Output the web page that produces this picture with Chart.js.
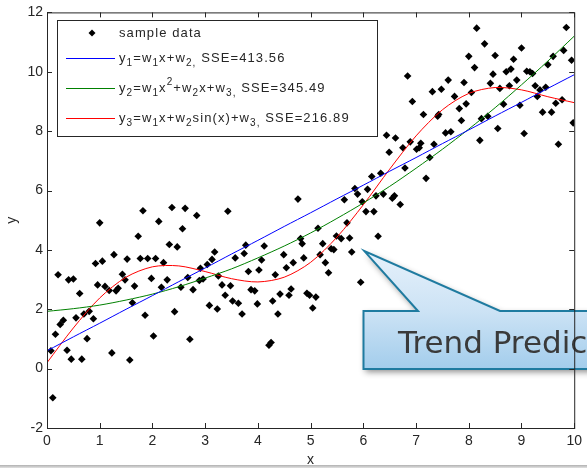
<!DOCTYPE html>
<html>
<head>
<meta charset="utf-8">
<script src="https://cdn.jsdelivr.net/npm/chart.js@4/dist/chart.umd.min.js"></script>
<style>
  html, body { margin: 0; padding: 0; background: #fff; }
  #wrap { position: relative; width: 587px; height: 468px; overflow: hidden; }
  canvas { display: block; }
  #edge { position: absolute; left: 0; right: 0; bottom: 0; height: 3px; background: linear-gradient(#b0b0b0, #e2e2e2); }
</style>
</head>
<body>
<div id="wrap">
  <canvas id="chart" width="587" height="468"></canvas>
  <div id="edge"></div>
</div>
<script>
// sample points (x, y)
const sampleX = [0.075, 0.11, 0.16, 0.21, 0.25, 0.31, 0.38, 0.41, 0.46, 0.50, 0.55, 0.62, 0.66, 0.70, 0.76, 0.80, 0.88, 0.92, 0.96, 1.00,
  1.05, 1.10, 1.18, 1.23, 1.27, 1.31, 1.35, 1.43, 1.48, 1.52, 1.57, 1.62, 1.66, 1.73, 1.77, 1.82, 1.86, 1.91, 1.98, 2.02,
  2.06, 2.12, 2.17, 2.21, 2.28, 2.32, 2.37, 2.42, 2.47, 2.54, 2.57, 2.62, 2.67, 2.71, 2.77, 2.84, 2.89, 2.91, 2.96, 3.04,
  3.08, 3.13, 3.18, 3.23, 3.25, 3.32, 3.38, 3.43, 3.48, 3.52, 3.57, 3.63, 3.70, 3.74, 3.77, 3.82, 3.87, 3.94, 3.99, 4.02,
  4.07, 4.12, 4.21, 4.25, 4.28, 4.33, 4.38, 4.42, 4.49, 4.54, 4.59, 4.63, 4.67, 4.76, 4.81, 4.84, 4.87, 4.93, 4.98, 5.04,
  5.10, 5.14, 5.18, 5.23, 5.28, 5.34, 5.39, 5.44, 5.49, 5.58, 5.64, 5.69, 5.74, 5.78, 5.84, 5.89, 5.95, 5.98, 6.05, 6.08,
  6.16, 6.20, 6.24, 6.28, 6.33, 6.38, 6.44, 6.49, 6.55, 6.59, 6.61, 6.70, 6.75, 6.79, 6.84, 6.89, 6.93, 7.01, 7.06, 7.09,
  7.14, 7.19, 7.26, 7.31, 7.34, 7.41, 7.43, 7.48, 7.56, 7.61, 7.66, 7.73, 7.82, 7.86, 7.91, 7.95, 8.00, 8.05, 8.11, 8.15,
  8.21, 8.24, 8.30, 8.36, 8.41, 8.46, 8.50, 8.55, 8.59, 8.66, 8.71, 8.77, 8.80, 8.85, 8.91, 8.97, 9.00, 9.05, 9.10, 9.16,
  9.21, 9.26, 9.30, 9.35, 9.40, 9.46, 9.50, 9.57, 9.60, 9.65, 9.70, 9.77, 9.80, 9.85, 9.95, 9.98];
const sampleY = [0.60, -0.98, 1.16, 3.16, 1.49, 1.63, 0.62, 2.99, 0.32, 3.02, 1.71, 2.53, 0.32, 1.84, 1.01, 1.93, 1.68, 3.54, 2.82, 4.91,
  3.62, 2.77, 2.63, 0.53, 3.84, 2.62, 2.71, 3.18, 2.99, 3.69, 0.29, 2.22, 2.78, 4.46, 3.71, 5.32, 1.80, 3.71, 3.04, 1.10,
  3.71, 4.96, 2.74, 3.57, 2.99, 4.18, 5.43, 1.92, 4.10, 2.74, 4.71, 5.40, 3.07, 0.99, 2.66, 5.16, 2.97, 3.38, 3.02, 3.51,
  2.13, 3.68, 3.93, 2.01, 3.12, 2.82, 2.47, 5.30, 2.79, 2.28, 3.73, 2.20, 1.84, 3.88, 4.16, 3.27, 2.66, 2.62, 2.18, 3.32,
  3.66, 4.13, 0.79, 0.88, 2.28, 3.16, 1.84, 2.51, 3.84, 3.40, 2.47, 2.68, 3.57, 5.71, 4.38, 4.21, 3.73, 2.54, 2.47, 2.04,
  2.41, 4.73, 3.84, 4.21, 3.57, 3.23, 4.04, 4.01, 4.47, 4.38, 5.69, 4.91, 4.40, 3.93, 6.07, 5.88, 2.91, 5.62, 5.29, 6.04,
  6.47, 5.29, 5.82, 4.46, 6.58, 5.88, 7.86, 7.29, 5.74, 5.82, 7.77, 5.53, 7.44, 6.76, 9.86, 7.64, 9.00, 7.39, 7.44, 7.59,
  8.56, 6.41, 7.11, 9.33, 7.56, 8.50, 8.56, 9.41, 7.94, 9.72, 7.98, 9.17, 8.76, 8.36, 9.64, 8.92, 10.52, 9.30, 10.14, 11.47,
  7.69, 8.42, 10.94, 8.50, 9.61, 9.92, 10.55, 8.09, 9.44, 8.91, 10.00, 9.53, 10.09, 10.42, 9.72, 8.87, 10.80, 7.92, 10.02, 10.00,
  9.94, 9.53, 9.17, 9.39, 8.64, 9.48, 10.24, 8.64, 10.52, 8.94, 7.56, 9.06, 10.72, 11.49, 10.39, 8.28];

// fitted curves, read at half-unit steps
const curveX = [0, 0.5, 1, 1.5, 2, 2.5, 3, 3.5, 4, 4.5, 5, 5.5, 6, 6.5, 7, 7.5, 8, 8.5, 9, 9.5, 10];
const linearY = [0.60, 1.07, 1.53, 2.00, 2.46, 2.93, 3.39, 3.86, 4.32, 4.79, 5.25, 5.72, 6.18, 6.65, 7.11, 7.58, 8.04, 8.51, 8.97, 9.44, 9.90];
const quadY = [1.93, 2.02, 2.14, 2.31, 2.51, 2.76, 3.05, 3.36, 3.73, 4.13, 4.57, 5.06, 5.58, 6.14, 6.75, 7.39, 8.07, 8.79, 9.56, 10.36, 11.20];
const sineY = [0.20, 1.37, 2.38, 3.08, 3.43, 3.46, 3.27, 3.03, 2.92, 3.08, 3.58, 4.43, 5.52, 6.72, 7.84, 8.72, 9.27, 9.47, 9.39, 9.16, 8.96];

const xRange = [0, 10];
const yRange = [-2, 12];
const sseValues = ["413.56", "345.49", "216.89"];
const calloutText = "Trend Prediction";
const calloutAt = [6.02, 3.96]; // where the arrow tip points

const toPts = (xs, ys) => xs.map((x, i) => ({ x, y: ys[i] }));

const FONT = '"Liberation Sans", Arial, Helvetica, sans-serif';
const INK = "#262626";

// legend rows: [text, mode] pieces, mode = sub / sup / normal
const legendRows = [
  { kind: "marker", parts: [["sample data"]] },
  { kind: "line", color: "#0000ff", parts: [["y"], ["1", "sub"], ["=w"], ["1", "sub"], ["x+w"], ["2,", "sub"], [" SSE=" + sseValues[0]]] },
  { kind: "line", color: "#008000", parts: [["y"], ["2", "sub"], ["=w"], ["1", "sub"], ["x"], ["2", "sup"], ["+w"], ["2", "sub"], ["x+w"], ["3,", "sub"], [" SSE=" + sseValues[1]]] },
  { kind: "line", color: "#ff0000", parts: [["y"], ["3", "sub"], ["=w"], ["1", "sub"], ["x+w"], ["2", "sub"], ["sin(x)+w"], ["3,", "sub"], [" SSE=" + sseValues[2]]] },
];

function drawParts(ctx, parts, x, y) {
  parts.forEach(([txt, mode]) => {
    ctx.font = (mode ? "10px " : "13px ") + FONT;
    const dy = mode === "sub" ? 5 : mode === "sup" ? -6 : 0;
    ctx.fillText(txt, x, y + dy);
    x += ctx.measureText(txt).width;
  });
}

function diamond(ctx, x, y, r) {
  ctx.beginPath();
  ctx.moveTo(x, y - r);
  ctx.lineTo(x + r, y);
  ctx.lineTo(x, y + r);
  ctx.lineTo(x - r, y);
  ctx.closePath();
  ctx.fill();
}

// callout, inward ticks, box and legend
const overlay = {
  id: "overlay",
  afterDatasetsDraw(chart) {
    const { ctx, chartArea: a, scales } = chart;
    ctx.save();

    // callout bubble
    const tipX = scales.x.getPixelForValue(calloutAt[0]);
    const tipY = scales.y.getPixelForValue(calloutAt[1]);
    const bx = 363.5, by = 311, bh = 58, bw = 260;
    ctx.beginPath();
    ctx.moveTo(bx, by);
    ctx.lineTo(418, by);
    ctx.lineTo(tipX, tipY);
    ctx.lineTo(500, by);
    ctx.lineTo(bx + bw, by);
    ctx.lineTo(bx + bw, by + bh);
    ctx.lineTo(bx, by + bh);
    ctx.closePath();
    const g = ctx.createLinearGradient(0, tipY, 0, by + bh);
    g.addColorStop(0, "#e6f1fb");
    g.addColorStop(0.5, "#cde3f5");
    g.addColorStop(1, "#a3cdec");
    ctx.fillStyle = g;
    ctx.shadowColor = "rgba(0,0,0,0.45)";
    ctx.shadowBlur = 6;
    ctx.shadowOffsetX = 2;
    ctx.shadowOffsetY = 3;
    ctx.fill();
    ctx.shadowColor = "transparent";
    ctx.strokeStyle = "#1f7ba0";
    ctx.lineWidth = 2;
    ctx.lineJoin = "miter";
    ctx.stroke();
    ctx.fillStyle = "#3a3a3a";
    ctx.font = '31px "DejaVu Sans", Verdana, sans-serif';
    ctx.textBaseline = "alphabetic";
    ctx.fillText(calloutText, 398, 353);

    // axes box + inward ticks
    ctx.strokeStyle = INK;
    ctx.lineWidth = 1;
    ctx.strokeRect(a.left + 0.5, a.top + 0.5, a.right - a.left, a.bottom - a.top);
    ctx.beginPath();
    scales.x.ticks.forEach((t) => {
      const px = Math.round(scales.x.getPixelForValue(t.value)) + 0.5;
      ctx.moveTo(px, a.bottom); ctx.lineTo(px, a.bottom - 5);
      ctx.moveTo(px, a.top); ctx.lineTo(px, a.top + 5);
    });
    scales.y.ticks.forEach((t) => {
      const py = Math.round(scales.y.getPixelForValue(t.value)) + 0.5;
      ctx.moveTo(a.left, py); ctx.lineTo(a.left + 5, py);
      ctx.moveTo(a.right, py); ctx.lineTo(a.right - 5, py);
    });
    ctx.stroke();

    // legend
    ctx.fillStyle = "#fff";
    ctx.fillRect(57, 20, 320, 116);
    ctx.strokeStyle = INK;
    ctx.strokeRect(57.5, 20.5, 320, 116);
    ctx.textBaseline = "middle";
    ctx.letterSpacing = "1.1px";
    const rowY = [33, 58, 88, 118];
    legendRows.forEach((row, i) => {
      const y = rowY[i];
      if (row.kind === "marker") {
        ctx.fillStyle = "#000";
        diamond(ctx, 92, y, 3.5);
      } else {
        ctx.strokeStyle = row.color;
        ctx.beginPath();
        ctx.moveTo(66, y + 0.5);
        ctx.lineTo(115, y + 0.5);
        ctx.stroke();
      }
      ctx.fillStyle = INK;
      drawParts(ctx, row.parts, 119, y);
    });
    ctx.restore();
  },
};

Chart.defaults.font.family = FONT;
Chart.defaults.font.size = 14;
Chart.defaults.color = INK;

new Chart(document.getElementById("chart"), {
  type: "scatter",
  data: {
    datasets: [
      {
        label: "y1",
        data: toPts(curveX, linearY),
        showLine: true,
        borderColor: "#0000ff",
        borderWidth: 1,
        pointRadius: 0,
        tension: 0.3,
        order: 0,
      },
      {
        label: "y2",
        data: toPts(curveX, quadY),
        showLine: true,
        borderColor: "#008000",
        borderWidth: 1,
        pointRadius: 0,
        tension: 0.3,
        order: 0,
      },
      {
        label: "y3",
        data: toPts(curveX, sineY),
        showLine: true,
        borderColor: "#ff0000",
        borderWidth: 1,
        pointRadius: 0,
        tension: 0.3,
        order: 0,
      },
      {
        label: "sample data",
        data: toPts(sampleX, sampleY),
        pointStyle: "rectRot",
        pointRadius: 3.8,
        pointBorderWidth: 0,
        pointBackgroundColor: "#000",
        order: 1,
      },
    ],
  },
  options: {
    responsive: false,
    animation: false,
    layout: { padding: { top: 8, right: 9, left: 0, bottom: 0 } },
    plugins: { legend: { display: false }, tooltip: { enabled: false } },
    scales: {
      x: {
        type: "linear",
        min: xRange[0],
        max: xRange[1],
        ticks: { stepSize: 1, padding: 5, maxRotation: 0 },
        grid: { display: false, drawTicks: false },
        border: { display: false },
        title: { display: true, text: "x", padding: { top: 0, bottom: -1 } },
        afterFit(s) { s.height = 40; },
      },
      y: {
        type: "linear",
        min: yRange[0],
        max: yRange[1],
        ticks: { stepSize: 2, padding: 4 },
        grid: { display: false, drawTicks: false },
        border: { display: false },
        title: { display: true, text: "y", padding: { top: 4, bottom: 0 } },
        afterFit(s) { s.width = 47; },
      },
    },
  },
  plugins: [overlay],
});
</script>
</body>
</html>
